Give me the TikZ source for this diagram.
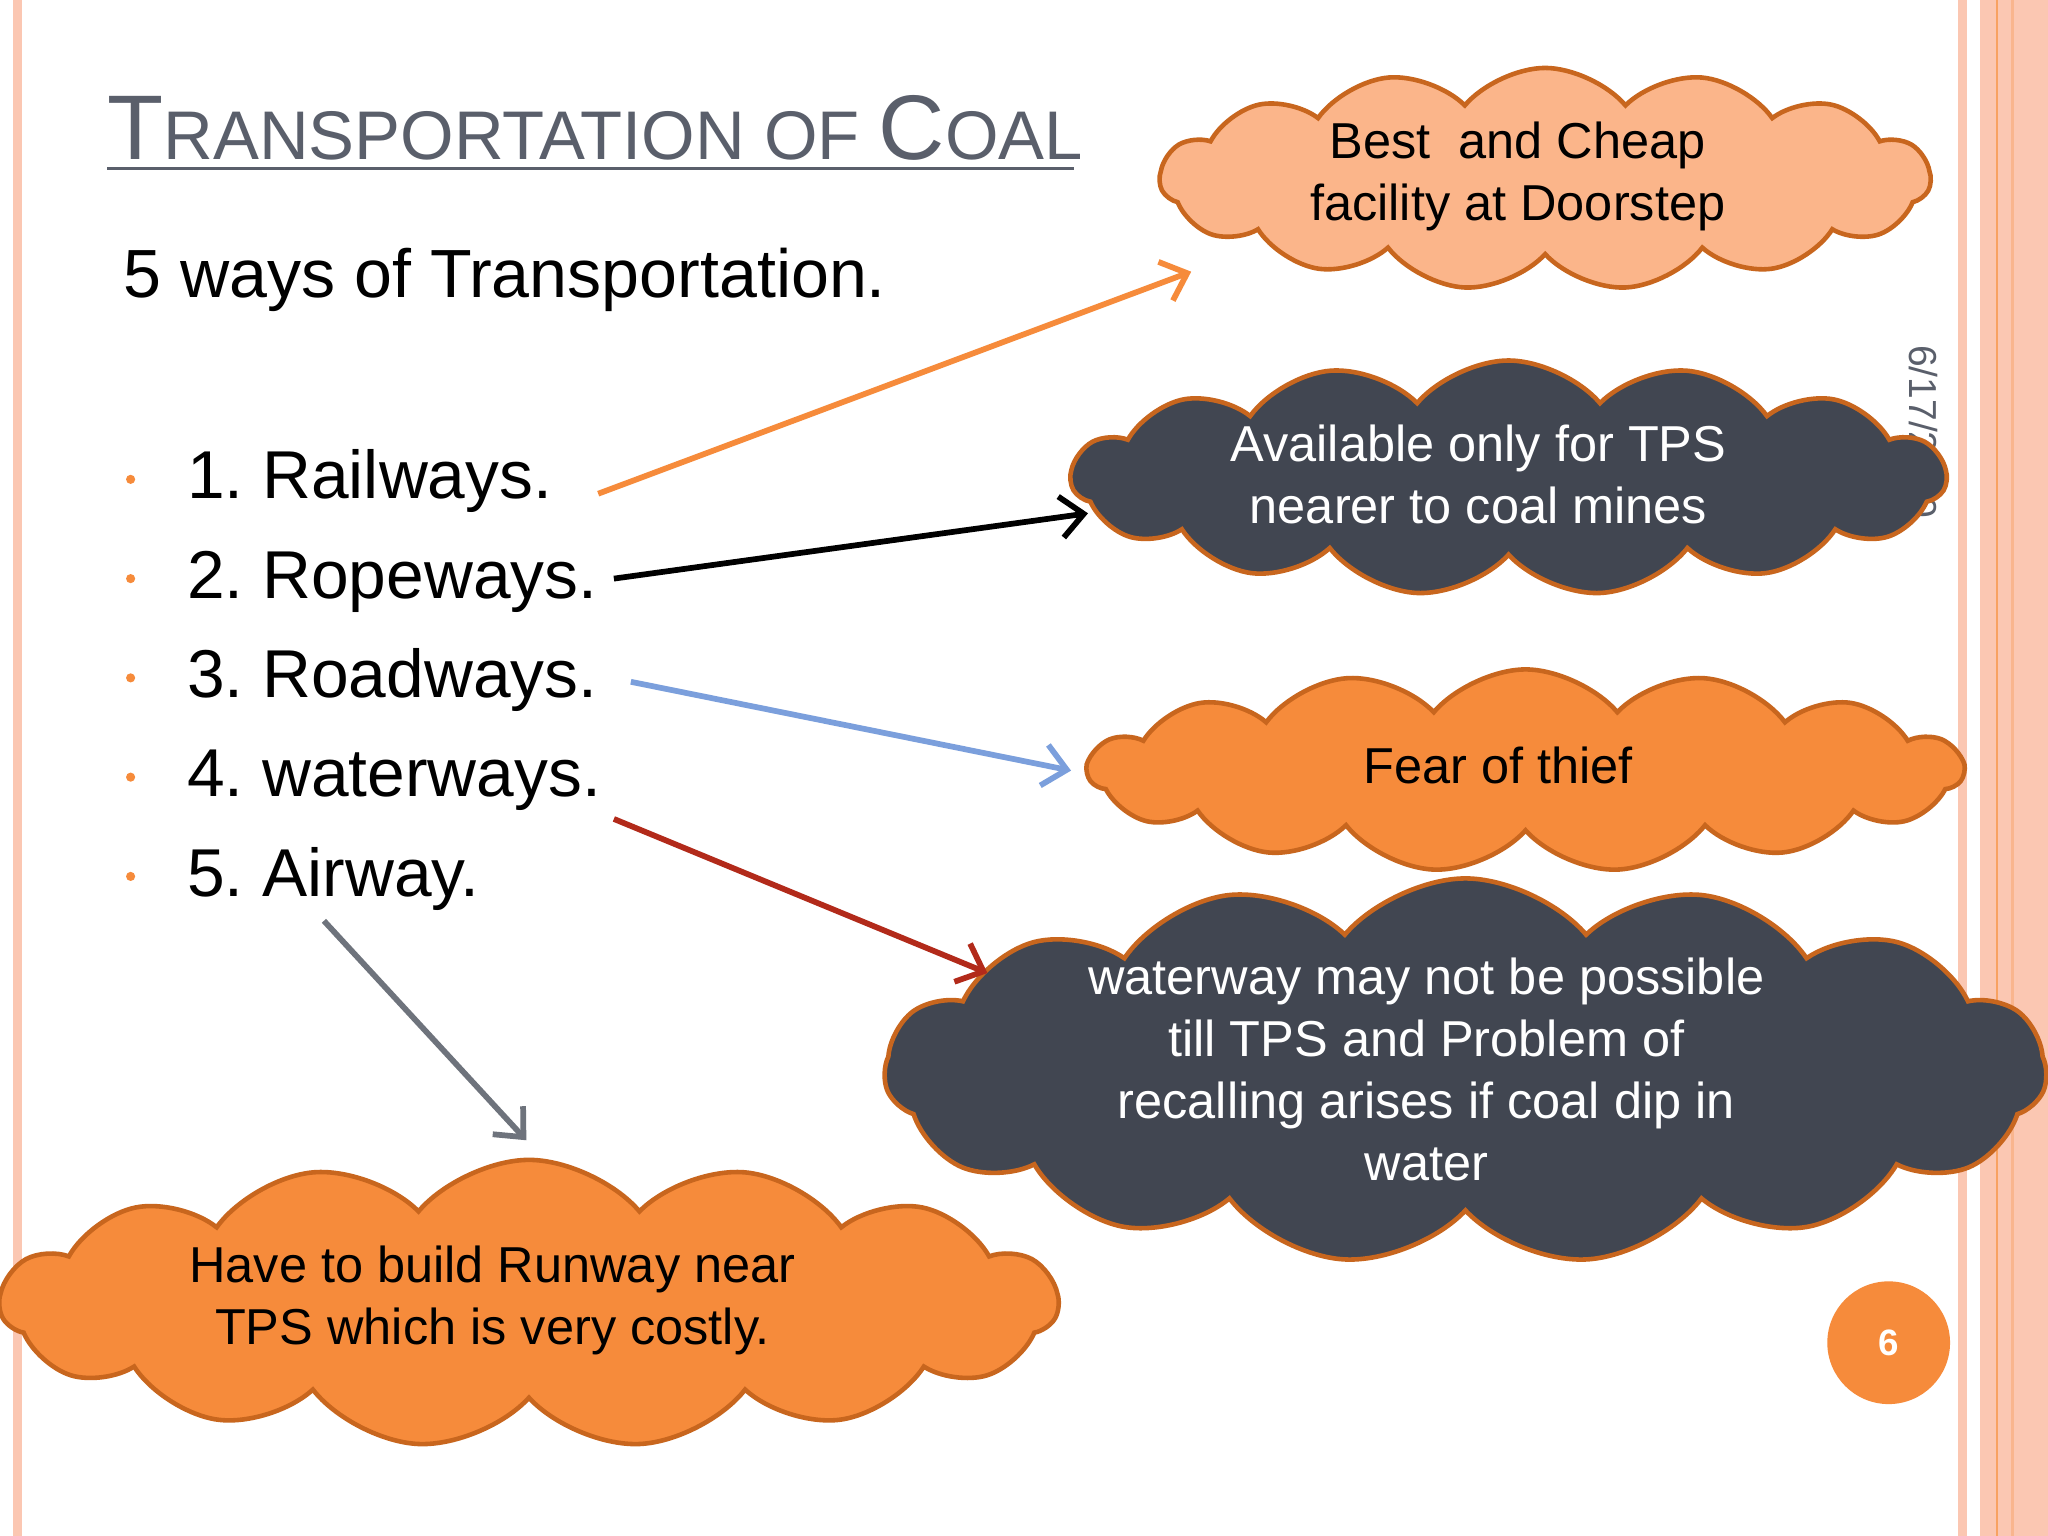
\documentclass[tikz,border=0pt]{standalone}
\usepackage{fontspec}
\setmainfont{Liberation Sans}
\usetikzlibrary{shapes.symbols,arrows.meta}
\definecolor{org}{HTML}{F68B3B}
\definecolor{lorg}{HTML}{FBB58A}
\definecolor{dk}{HTML}{414651}
\definecolor{edge}{HTML}{C8661E}
\definecolor{stripe}{HTML}{FBC7B2}
\definecolor{ttl}{HTML}{5A5F6B}
\tikzset{
 cl/.style={cloud, cloud puffs=15, cloud puff arc=100, cloud ignores aspect, draw=edge, line width=2pt, inner sep=0pt},
 ct/.style={align=center, inner sep=0pt, font=\fontsize{22}{27}\selectfont},
 item/.style={anchor=base west, font=\fontsize{29.5}{36}\selectfont},
 arr/.style={line width=2.5pt, -{Straight Barb[length=10pt,width=18pt,line width=2.5pt]}},
}
\frenchspacing
\begin{document}
\begin{tikzpicture}[x=0.02cm,y=-0.02cm]
\useasboundingbox (0,0) rectangle (1568,1176);
\fill[white] (0,0) rectangle (1568,1176);
% stripes
\fill[stripe] (1499,0) rectangle (1506,1176);
\fill[stripe] (1516,0) rectangle (1568,1176);
\fill[org!80] (1528,0) rectangle (1530,1176);
\fill[stripe!70!org] (1540,0) rectangle (1542,1176);
\fill[stripe] (10,0) rectangle (17,1176);
% date
\node[rotate=-90, anchor=north west, text=ttl, font=\fontsize{17}{20}\selectfont] (date) at (1490,258) {6/17/2020};
% title
\node[anchor=base west, text=ttl, inner sep=0pt] (title) at (82,122) {{\fontsize{40}{44}\selectfont T}{\fontsize{30}{34}\selectfont RANSPORTATION OF }{\fontsize{40}{44}\selectfont C}{\fontsize{30}{34}\selectfont OAL}};
\draw[ttl, line width=1.6pt] (82,129) -- (822,129);
\node[anchor=base west, inner sep=0pt, font=\fontsize{29.7}{36}\selectfont] (sub) at (94,228) {5 ways of Transportation.};
% items
\foreach \i/\y/\t in {1/382/1. Railways.,2/458/2. Ropeways.,3/534/3. Roadways.,4/610/4. waterways.,5/686/5. Airway.}{
 \fill[org] (100,\y-15) circle (3.5);
 \node[item, inner sep=0pt] (it\i) at (143,\y) {\t};
}
% clouds
\node[cl, fill=lorg, minimum width=11.8cm, minimum height=3.4cm] (c1) at (1183,137) {};
\node[ct] (t1) at (1162,135) {Best\ \ and Cheap\\facility at Doorstep};
\node[cl, fill=dk, minimum width=13.4cm, minimum height=3.6cm] (c2) at (1155,366) {};
\node[ct, text=white] (t2) at (1132,363) {Available only for TPS\\nearer to coal mines};
\node[cl, fill=org, minimum width=13.4cm, minimum height=3.1cm] (c3) at (1168,590) {};
\node[ct] (t3) at (1147,586) {Fear of thief};
\node[cl, fill=dk, minimum width=17.8cm, minimum height=5.9cm] (c4) at (1122,820) {};
\node[ct, text=white] (t4) at (1092,819) {waterway may not be possible\\till TPS and Problem of\\recalling arises if coal dip in\\water};
\node[cl, fill=org, minimum width=16.2cm, minimum height=4.4cm] (c5) at (405,998) {};
\node[ct] (t5) at (377,996) {Have to build Runway near\\TPS which is very costly.};
\coordinate (a1) at (458,378); \coordinate (b1) at (912,208);
\coordinate (a2) at (470,443); \coordinate (b2) at (833,393);
\coordinate (a3) at (483,522); \coordinate (b3) at (820,590);
\coordinate (a4) at (470,627); \coordinate (b4) at (756,745);
\coordinate (a5) at (248,705); \coordinate (b5) at (403,873);
\draw[arr, org] (a1) -- (b1);
\draw[arr, black] (a2) -- (b2);
\draw[arr, color={rgb,255:red,123;green,159;blue,220}] (a3) -- (b3);
\draw[arr, color={rgb,255:red,178;green,42;blue,26}] (a4) -- (b4);
\draw[arr, color={rgb,255:red,110;green,115;blue,124}] (a5) -- (b5);
% page number
\node[circle, fill=org, minimum size=1.88cm, inner sep=0pt, text=white, font=\bfseries\fontsize{16}{18}\selectfont] (pg) at (1446,1028) {6};
\end{tikzpicture}
\end{document}
